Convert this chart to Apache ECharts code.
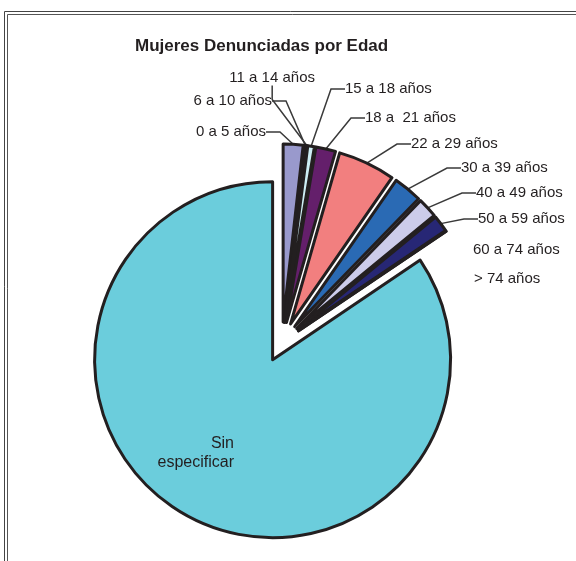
<!DOCTYPE html>
<html>
<head>
<meta charset="utf-8">
<script src="https://cdn.jsdelivr.net/npm/echarts@6/dist/echarts.min.js"></script>
<style>
  html, body { margin: 0; padding: 0; background: #fff; }
  #chart { width: 576px; height: 561px; }
</style>
</head>
<body>
<div id="chart"></div>
<script>
// grupos de edad (porcentaje del total de mujeres denunciadas)
const ageGroups = ['0 a 5 años', '6 a 10 años', '11 a 14 años', '15 a 18 años', '18 a  21 años',
  '22 a 29 años', '30 a 39 años', '40 a 49 años', '50 a 59 años', '60 a 74 años', '> 74 años', 'Sin\nespecificar']
const shares = [1.8, 0.15, 0.1, 0.6, 1.8, 5.2, 2.6, 1.8, 1.5, 0, 0, 84.45]
const sliceColors = ['#9999cc', '#8e2e5e', '#ffffcc', '#cdeef4', '#641f6b', '#f27f7f',
  '#2a6ab4', '#ccccea', '#272775', '#e0218a', '#fff200', '#6bcddc']

// donde van los textos de cada etiqueta
const labelPlaces = [
  { x: 266, y: 132, align: 'right' },
  { x: 272, y: 101, align: 'right' },
  { x: 315, y: 78, align: 'right' },
  { x: 345, y: 89, align: 'left' },
  { x: 365, y: 118, align: 'left' },
  { x: 411, y: 144, align: 'left' },
  { x: 461, y: 168, align: 'left' },
  { x: 476, y: 193, align: 'left' },
  { x: 478, y: 219, align: 'left' },
  { x: 473, y: 250, align: 'left' },
  { x: 474, y: 279, align: 'left' },
  { x: 234, y: 453, align: 'right' }
]

const pieR = 178
const explode = 20

const chart = echarts.init(document.getElementById('chart'))

// porciones visibles, todas separadas del centro
const sliceData = ageGroups.map((name, i) => ({
  name: name,
  value: shares[i],
  selected: true,
  itemStyle: { color: sliceColors[i] }
}))

// serie transparente solo para las etiquetas (radio = borde de la porcion separada)
const labelData = ageGroups.map((name, i) => {
  const item = { name: name, value: shares[i] }
  if (shares[i] === 0 || i === ageGroups.length - 1) {
    item.labelLine = { show: false }
  }
  if (i === ageGroups.length - 1) {
    item.label = { position: 'inside', fontSize: 16, lineHeight: 19 }
  }
  return item
})

chart.setOption({
  animation: false,
  title: {
    text: 'Mujeres Denunciadas por Edad',
    left: 135,
    top: 38,
    padding: 0,
    textStyle: {
      fontFamily: 'Liberation Sans',
      fontSize: 17,
      fontWeight: 'bold',
      color: '#231f20'
    }
  },
  graphic: [
    {
      type: 'rect',
      silent: true,
      shape: { x: 4.5, y: 11.5, width: 700, height: 700 },
      style: { fill: 'none', stroke: '#444', lineWidth: 1 }
    },
    {
      type: 'rect',
      silent: true,
      shape: { x: 7.5, y: 14.5, width: 700, height: 700 },
      style: { fill: 'none', stroke: '#555', lineWidth: 1 }
    }
  ],
  series: [
    {
      type: 'pie',
      center: [282, 342],
      radius: pieR,
      startAngle: 90,
      clockwise: true,
      selectedMode: 'multiple',
      selectedOffset: explode,
      itemStyle: {
        borderColor: '#231f20',
        borderWidth: 3
      },
      label: { show: false },
      labelLine: { show: false },
      emphasis: { disabled: true },
      data: sliceData
    },
    {
      type: 'pie',
      center: [282, 342],
      radius: pieR + explode,
      startAngle: 90,
      clockwise: true,
      silent: true,
      avoidLabelOverlap: false,
      itemStyle: { color: 'rgba(0,0,0,0)', borderWidth: 0 },
      label: {
        show: true,
        position: 'outside',
        fontFamily: 'Liberation Sans',
        fontSize: 15,
        color: '#231f20'
      },
      labelLine: {
        show: true,
        length: 15,
        length2: 14,
        lineStyle: { color: '#3a3a3a', width: 1.5 }
      },
      labelLayout: function (params) {
        const p = labelPlaces[params.dataIndex]
        return { x: p.x, y: p.y, align: p.align, verticalAlign: 'middle' }
      },
      emphasis: { disabled: true },
      data: labelData
    }
  ]
})
</script>
</body>
</html>
